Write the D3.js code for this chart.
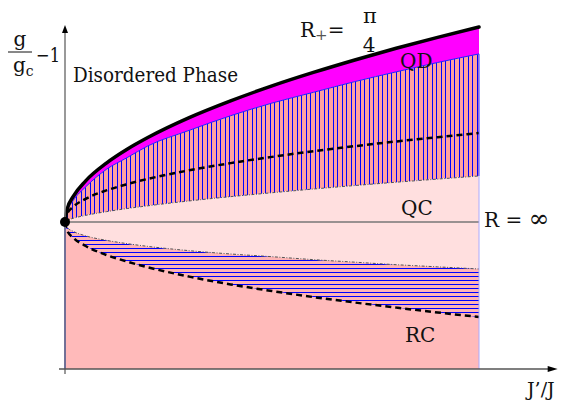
<!DOCTYPE html>
<html>
<head>
<meta charset="utf-8">
<script src="https://cdn.jsdelivr.net/npm/d3@7"></script>
<style>
  body { margin: 0; background: #fff; }
  svg { display: block; }
</style>
</head>
<body>
<div id="chart"></div>
<script>
const width = 564;
const height = 401;
const serif = "DejaVu Serif";

// J'/J positions shared by every boundary curve
const jRatio = [0, 0.005, 0.02, 0.05, 0.1, 0.15, 0.2, 0.3, 0.4, 0.5, 0.6, 0.7, 0.8, 0.9, 1.0];

// R+ = pi/4 boundary (thick black)
const upperBound = [0, 0.064, 0.131, 0.211, 0.302, 0.373, 0.433, 0.535, 0.621, 0.698, 0.767, 0.831, 0.891, 0.947, 1.0];
// lower edge of the QD band (thin blue)
const qdEdge = [0, 0.05, 0.11, 0.18, 0.27, 0.33, 0.39, 0.47, 0.545, 0.61, 0.665, 0.72, 0.77, 0.818, 0.862];
// upper dashed curve
const upperDashed = [0, 0.042, 0.078, 0.119, 0.162, 0.194, 0.221, 0.265, 0.302, 0.334, 0.363, 0.389, 0.413, 0.435, 0.456];
// upper dash-dot curve (top of QC)
const qcTop = [0, 0.0075, 0.019, 0.034, 0.053, 0.069, 0.083, 0.108, 0.130, 0.150, 0.169, 0.187, 0.204, 0.220, 0.236];
// lower dash-dot curve (bottom of QC)
const qcBottom = [0, -0.027, -0.048, -0.071, -0.094, -0.111, -0.125, -0.147, -0.164, -0.178, -0.193, -0.206, -0.219, -0.230, -0.241];
// lower dashed curve
const lowerDashed = [0, -0.043, -0.081, -0.123, -0.169, -0.203, -0.232, -0.280, -0.320, -0.354, -0.385, -0.413, -0.439, -0.464, -0.487];

const xMin = -0.0145, xMax = 1.19;   // x axis extent
const yMin = -0.754, yMax = 1.01;    // y axis extent

const x = d3.scaleLinear().domain([0, 1]).range([65, 479]);
const y = d3.scaleLinear().domain([0, 1]).range([222, 27]);

const svg = d3.select("#chart").append("svg")
    .attr("width", width)
    .attr("height", height);

const defs = svg.append("defs");

const pts = vals => jRatio.map((j, i) => [j, vals[i]]);

const band = (top, bottom) => d3.area()
    .x((d, i) => x(jRatio[i]))
    .y0((d, i) => y(bottom[i]))
    .y1((d, i) => y(top[i]))
    .curve(d3.curveMonotoneX)(jRatio);

const line = d3.line()
    .x(d => x(d[0]))
    .y(d => y(d[1]))
    .curve(d3.curveMonotoneX);

// RC region down to the axis
svg.append("path")
    .attr("d", band(qcBottom, jRatio.map(() => yMin)))
    .attr("fill", "#ffbaba");

// horizontally hatched band
defs.append("clipPath").attr("id", "clipH")
    .append("path").attr("d", band(qcBottom, lowerDashed));
const hG = svg.append("g").attr("clip-path", "url(#clipH)");
hG.append("path").attr("d", band(qcBottom, lowerDashed)).attr("fill", "#ffb4b4");
d3.range(y(0) + 2, y(-0.5), 4).forEach(py => {
    hG.append("line")
        .attr("x1", x(0)).attr("x2", x(1))
        .attr("y1", Math.round(py) + 0.5).attr("y2", Math.round(py) + 0.5)
        .attr("stroke", "#0000ff").attr("stroke-width", 1);
});

// QC region
svg.append("path")
    .attr("d", band(qcTop, qcBottom))
    .attr("fill", "#ffdfdf");

// vertically hatched band
defs.append("clipPath").attr("id", "clipV")
    .append("path").attr("d", band(qdEdge, qcTop));
const vG = svg.append("g").attr("clip-path", "url(#clipV)");
vG.append("path").attr("d", band(qdEdge, qcTop)).attr("fill", "#ffa0a0");
d3.range(x(0) + 2, x(1) + 1, 4.5).forEach(px => {
    vG.append("line")
        .attr("x1", Math.round(px) + 0.5).attr("x2", Math.round(px) + 0.5)
        .attr("y1", y(1.1)).attr("y2", y(0))
        .attr("stroke", "#0000ff").attr("stroke-width", 1);
});

// QD magenta band
svg.append("path")
    .attr("d", band(upperBound, qdEdge))
    .attr("fill", "#ff00ff");

// dash-dot boundaries
[qcTop, qcBottom].forEach(vals => {
    svg.append("path")
        .attr("d", line(pts(vals)))
        .attr("fill", "none")
        .attr("stroke", "#555")
        .attr("stroke-width", 1)
        .attr("stroke-dasharray", "3,1.5,1,1.5");
});

// dashed curves
[upperDashed, lowerDashed].forEach(vals => {
    svg.append("path")
        .attr("d", line(pts(vals)))
        .attr("fill", "none")
        .attr("stroke", "#000")
        .attr("stroke-width", 2.5)
        .attr("stroke-dasharray", "6,4");
});

// thin blue edge of QD
svg.append("path")
    .attr("d", line(pts(qdEdge)))
    .attr("fill", "none")
    .attr("stroke", "#2020ff")
    .attr("stroke-width", 1);

// R = infinity line
svg.append("line")
    .attr("x1", x(0)).attr("x2", x(1))
    .attr("y1", y(0)).attr("y2", y(0))
    .attr("stroke", "#777")
    .attr("stroke-width", 1.5);

// left and right edges of the region
svg.append("line")
    .attr("x1", x(0)).attr("x2", x(0))
    .attr("y1", y(0)).attr("y2", y(yMin))
    .attr("stroke", "#3030ff")
    .attr("stroke-width", 1.5);
svg.append("line")
    .attr("x1", x(1)).attr("x2", x(1))
    .attr("y1", y(qdEdge[qdEdge.length - 1])).attr("y2", y(qcTop[qcTop.length - 1]))
    .attr("stroke", "#3030ff")
    .attr("stroke-width", 1);
svg.append("line")
    .attr("x1", x(1)).attr("x2", x(1))
    .attr("y1", y(qcTop[qcTop.length - 1])).attr("y2", y(yMin))
    .attr("stroke", "#aaaaff")
    .attr("stroke-width", 1);

// thick R+ boundary
svg.append("path")
    .attr("d", line(pts(upperBound)))
    .attr("fill", "none")
    .attr("stroke", "#000")
    .attr("stroke-width", 3.5)
    .attr("stroke-linecap", "round");

// axes
svg.append("line")
    .attr("x1", x(0)).attr("x2", x(0))
    .attr("y1", y(yMin) + 5).attr("y2", y(yMax) + 6)
    .attr("stroke", "#777").attr("stroke-width", 1.5);
svg.append("path")
    .attr("d", `M${x(0)},${y(yMax)} l-3,8 l6,0 z`)
    .attr("fill", "#000");

svg.append("line")
    .attr("x1", x(xMin)).attr("x2", x(xMax) - 8)
    .attr("y1", y(yMin)).attr("y2", y(yMin))
    .attr("stroke", "#555").attr("stroke-width", 1.5);
svg.append("path")
    .attr("d", `M${x(xMax)},${y(yMin)} l-10,-3 l0,6 z`)
    .attr("fill", "#000");

// critical point
svg.append("circle")
    .attr("cx", x(0)).attr("cy", y(0))
    .attr("r", 5)
    .attr("fill", "#000");

// labels
const label = (tx, ty, str, size) => svg.append("text")
    .attr("x", tx).attr("y", ty)
    .style("font-family", serif)
    .style("font-size", (size || 20) + "px")
    .attr("fill", "#111")
    .text(str);

// g / g_c - 1
label(20, 46, "g").attr("text-anchor", "middle");
svg.append("line").attr("x1", 8).attr("x2", 32).attr("y1", 52).attr("y2", 52)
    .attr("stroke", "#111").attr("stroke-width", 1);
const gc = label(13, 72, "");
gc.append("tspan").text("g");
gc.append("tspan").style("font-size", "14px").attr("dy", 4).text("c");
label(36, 62, "\u22121")
    .attr("textLength", 24)
    .attr("lengthAdjust", "spacingAndGlyphs");

label(73, 82, "Disordered Phase")
    .attr("textLength", 165)
    .attr("lengthAdjust", "spacingAndGlyphs");

const rp = label(300, 37, "");
rp.append("tspan").text("R");
rp.append("tspan").style("font-size", "15px").attr("dy", 3).attr("fill", "#555").text("+");
rp.append("tspan").attr("dy", -3).text("=");
label(370, 23, "\u03c0", 21).attr("text-anchor", "middle");
label(369, 52, "4").attr("text-anchor", "middle");

label(400, 68, "QD");
label(401, 215, "QC");
label(405, 342, "RC");

const rinf = label(484, 227, "");
rinf.append("tspan").text("R = ");
rinf.append("tspan").style("font-size", "25px").text("\u221e");

label(527, 396, "J\u2019/J", 19);
</script>
</body>
</html>
